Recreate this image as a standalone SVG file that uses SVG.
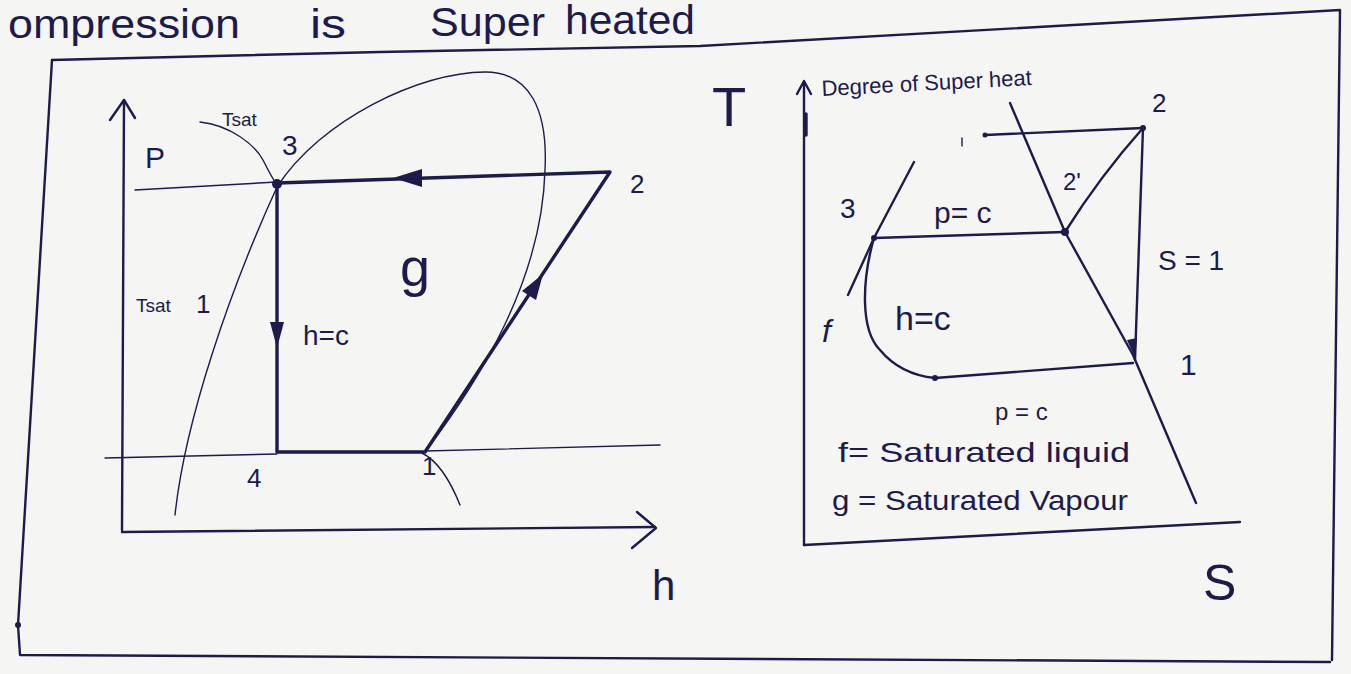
<svg xmlns="http://www.w3.org/2000/svg" width="1351" height="674" viewBox="0 0 1351 674">
<style>
.ink{fill:none;stroke:#1d1b4c;stroke-linecap:round;stroke-linejoin:round}
.thin{stroke-width:1.4}
.med{stroke-width:2.4}
.thick{stroke-width:3.4}
.t{font-family:"Liberation Sans",Arial,sans-serif;fill:#1d1b4c}
.head{font-family:"Liberation Sans",Arial,sans-serif;fill:#1d1b4c;font-size:40px}
.fill{fill:#1d1b4c;stroke:none}
</style>
<rect width="1351" height="674" fill="#f5f5f3"/>
<g id="frame">
<path class="ink med" d="M52,60 L380,52 L700,46 L1340,10 L1332,660"/>
<path class="ink med" d="M52,60 L18,625 L20,655 L1330,662"/>
<circle class="fill" cx="18" cy="625" r="3"/>
</g>
<g id="header">
<text class="head" x="8" y="38" textLength="232" lengthAdjust="spacingAndGlyphs">ompression</text>
<text class="head" x="310" y="38" textLength="36" lengthAdjust="spacingAndGlyphs">is</text>
<text class="head" x="430" y="36" textLength="115" lengthAdjust="spacingAndGlyphs">Super</text>
<text class="head" x="565" y="34" textLength="130" lengthAdjust="spacingAndGlyphs">heated</text>
</g>
<g id="ph-diagram">
<g id="ph-axes">
<path class="ink med" d="M122,530 L124,100"/>
<path class="ink med" d="M110,120 L124,100 L135,118"/>
<path class="ink med" d="M122,532 L655,527"/>
<path class="ink med" d="M637,512 L656,528 L632,548"/>
<text class="t" x="145" y="168" font-size="30">P</text>
<text class="t" x="652" y="600" font-size="42">h</text>
</g>
<g id="ph-dome">
<path class="ink thin" d="M175,515 C 185,420 230,290 277,187 C 320,120 420,72 485,72 C 530,72 548,110 545,170 C 542,280 480,380 425,452"/>
<path class="ink thin" d="M200,122 C 230,125 255,145 263,160 C 268,170 272,178 277,185"/>
<path class="ink thin" d="M422,453 C 440,462 452,485 460,505"/>
<path class="ink thin" d="M135,190 L277,182"/>
<path class="ink thin" d="M105,458 L277,454 M425,451 L660,445"/>
</g>
<g id="ph-cycle">
<path class="ink thick" d="M277,183 L610,172 L425,452 L277,452 Z"/>
<polygon class="fill" points="393,178 422,169 422,187"/>
<polygon class="fill" points="543,274 536,300 522,291"/>
<polygon class="fill" points="277,348 270,322 284,322"/>
<circle class="fill" cx="277" cy="184" r="5"/>
</g>
<g id="ph-labels">
<text class="t" x="222" y="126" font-size="19">Tsat</text>
<text class="t" x="282" y="155" font-size="28">3</text>
<text class="t" x="630" y="193" font-size="26">2</text>
<text class="t" x="400" y="286" font-size="54">g</text>
<text class="t" x="303" y="345" font-size="28">h=c</text>
<text class="t" x="136" y="312" font-size="19">Tsat</text>
<text class="t" x="196" y="313" font-size="26">1</text>
<text class="t" x="247" y="487" font-size="26">4</text>
<text class="t" x="422" y="475" font-size="26">1</text>
</g>
</g>
<g id="ts-diagram">
<g id="ts-axes">
<path class="ink med" d="M804,545 L804,84"/>
<path class="ink med" d="M797,94 L804,81 L811,94"/>
<path class="ink thick" d="M806,114 L806,135"/>
<path class="ink med" d="M804,545 L1240,522"/>
<text class="t" x="712" y="126" font-size="56">T</text>
<text class="t" x="1203" y="600" font-size="50">S</text>
<text class="t" x="822" y="96" font-size="22" transform="rotate(-3 822 96)">Degree of Super heat</text>
</g>
<g id="ts-lines">
<path class="ink med" d="M1010,103 L1065,232 L1133,355 L1196,503"/>
<path class="ink med" d="M914,162 L874,238 L848,295"/>
<path class="ink med" d="M985,135 L1143,128"/>
<path class="ink med" d="M1143,128 C 1110,165 1082,205 1065,232"/>
<path class="ink med" d="M1143,128 L1135,360"/>
<path class="ink med" d="M874,238 L1065,232"/>
<path class="ink med" d="M874,238 C 862,280 860,330 880,350 C 895,368 915,376 935,378 L1133,363"/>
<path class="ink thin" d="M962,138 L962,146"/>
<circle class="fill" cx="985" cy="135" r="2.5"/>
<circle class="fill" cx="1065" cy="232" r="4"/>
<circle class="fill" cx="874" cy="238" r="3"/>
<circle class="fill" cx="935" cy="378" r="3"/>
<circle class="fill" cx="1143" cy="128" r="3"/>
<polygon class="fill" points="1135,358 1127,340 1137,338"/>
</g>
<g id="ts-labels">
<text class="t" x="1152" y="112" font-size="26">2</text>
<text class="t" x="840" y="218" font-size="28">3</text>
<text class="t" x="934" y="223" font-size="30">p= c</text>
<text class="t" x="1063" y="190" font-size="24">2'</text>
<text class="t" x="1158" y="270" font-size="28">S = 1</text>
<text class="t" x="822" y="342" font-size="32" font-style="italic">f</text>
<text class="t" x="895" y="330" font-size="34">h=c</text>
<text class="t" x="1180" y="375" font-size="30">1</text>
<text class="t" x="995" y="420" font-size="24">p = c</text>
<text class="t" x="838" y="462" font-size="28" textLength="292" lengthAdjust="spacingAndGlyphs">f= Saturated liquid</text>
<text class="t" x="832" y="510" font-size="28" textLength="296" lengthAdjust="spacingAndGlyphs">g = Saturated Vapour</text>
</g>
</g>
</svg>
